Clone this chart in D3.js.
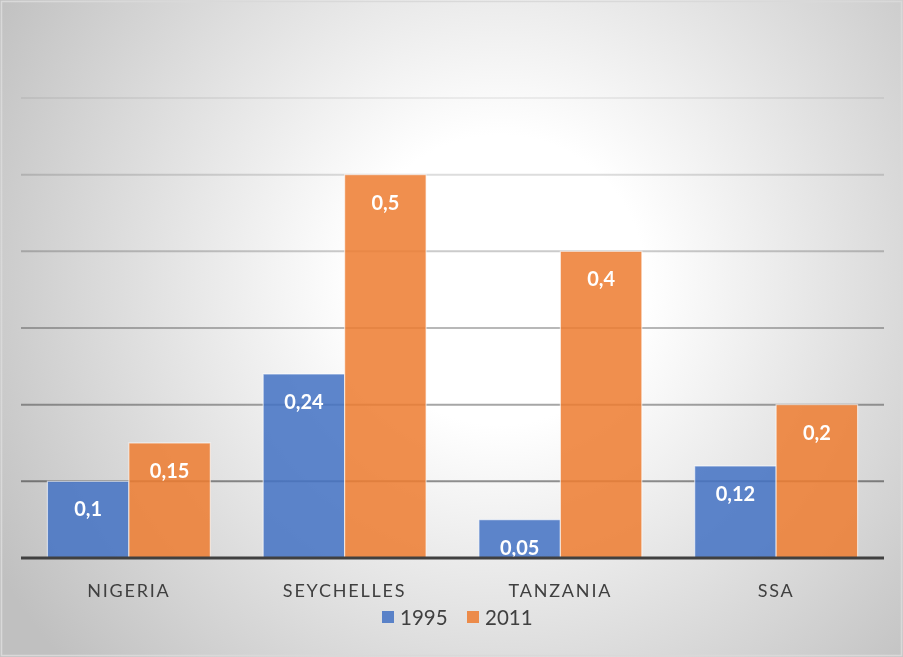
<!DOCTYPE html>
<html>
<head>
<meta charset="utf-8">
<script src="https://cdn.jsdelivr.net/npm/d3@7"></script>
<style>
  body { margin: 0; background: #fff; }
  svg { display: block; }
</style>
</head>
<body>
<div id="chart"></div>
<script>
// chart data
var categories = ["NIGERIA", "SEYCHELLES", "TANZANIA", "SSA"];
var seriesNames = ["1995", "2011"];
var values1995 = [0.1, 0.24, 0.05, 0.12];
var values2011 = [0.15, 0.5, 0.4, 0.2];
var gridTicks = [0.1, 0.2, 0.3, 0.4, 0.5, 0.6];
var seriesColors = ["#4472c4", "#ed7d31"];

var width = 903, height = 657;
var plot = {left: 21, right: 884, top: 98, bottom: 558};

var svg = d3.select("#chart").append("svg")
    .attr("width", width)
    .attr("height", height);

var defs = svg.append("defs");
var bg = defs.append("radialGradient")
    .attr("id", "bgGrad")
    .attr("gradientUnits", "userSpaceOnUse")
    .attr("cx", 500).attr("cy", 280).attr("r", 580);
bg.append("stop").attr("offset", "0").attr("stop-color", "#ffffff");
bg.append("stop").attr("offset", "0.25").attr("stop-color", "#ffffff");
bg.append("stop").attr("offset", "1").attr("stop-color", "#c0c0c0");

svg.append("rect")
    .attr("x", 0).attr("y", 0)
    .attr("width", width).attr("height", height)
    .attr("fill", "url(#bgGrad)");

// outer border
svg.append("rect")
    .attr("x", 1.5).attr("y", 1.5)
    .attr("width", width - 3).attr("height", height - 3)
    .attr("fill", "none")
    .attr("stroke", "#d9d9d9")
    .attr("stroke-width", 1.5);

var x0 = d3.scaleBand()
    .domain(categories)
    .range([plot.left, plot.right])
    .paddingInner(0.245)
    .paddingOuter(0.1225);

var x1 = d3.scaleBand()
    .domain(seriesNames)
    .range([0, x0.bandwidth()]);

var y = d3.scaleLinear()
    .domain([0, 0.6])
    .range([plot.bottom, plot.top]);

// gridlines get darker towards the bottom, multiplied onto the background
var gridShade = d3.scaleLinear()
    .domain([0.6, 0.1])
    .range(["#f0f0f0", "#939393"]);

svg.append("g").selectAll("line")
    .data(gridTicks)
    .enter()
    .append("line")
    .attr("x1", plot.left).attr("x2", plot.right)
    .attr("y1", function(d) { return y(d); })
    .attr("y2", function(d) { return y(d); })
    .attr("stroke", function(d) { return gridShade(d); })
    .attr("stroke-width", 2)
    .style("mix-blend-mode", "multiply");

var rows = categories.map(function(c, i) {
    return {cat: c, vals: [values1995[i], values2011[i]]};
});

var groups = svg.append("g").selectAll("g")
    .data(rows)
    .enter()
    .append("g")
    .attr("transform", function(d) { return "translate(" + x0(d.cat) + ",0)"; });

groups.selectAll("rect")
    .data(function(d) { return d.vals.map(function(v, k) { return {s: seriesNames[k], k: k, v: v}; }); })
    .enter()
    .append("rect")
    .attr("x", function(d) { return x1(d.s); })
    .attr("y", function(d) { return y(d.v); })
    .attr("width", x1.bandwidth())
    .attr("height", function(d) { return y(0) - y(d.v); })
    .attr("fill", function(d) { return seriesColors[d.k]; })
    .attr("fill-opacity", 0.86)
    .attr("stroke", "#ffffff")
    .attr("stroke-opacity", 0.6)
    .attr("stroke-width", 1.2);

groups.selectAll("text")
    .data(function(d) { return d.vals.map(function(v, k) { return {s: seriesNames[k], k: k, v: v}; }); })
    .enter()
    .append("text")
    .attr("x", function(d) { return x1(d.s) + x1.bandwidth() / 2; })
    .attr("y", function(d) { return y(d.v) + 35; })
    .attr("text-anchor", "middle")
    .style("font-family", "Lato, 'Open Sans', sans-serif")
    .style("font-weight", "bold")
    .style("font-size", "20px")
    .style("fill", "#ffffff")
    .text(function(d) { return String(d.v).replace(".", ","); });

// x axis line
svg.append("line")
    .attr("x1", plot.left).attr("x2", plot.right)
    .attr("y1", y(0)).attr("y2", y(0))
    .attr("stroke", "#404040")
    .attr("stroke-width", 3);

// category labels
svg.append("g").selectAll("text")
    .data(categories)
    .enter()
    .append("text")
    .attr("x", function(d) { return x0(d) + x0.bandwidth() / 2; })
    .attr("y", 597)
    .attr("text-anchor", "middle")
    .style("font-family", "Lato, 'Open Sans', sans-serif")
    .style("font-size", "18px")
    .style("letter-spacing", "1.8px")
    .style("fill", "#404040")
    .text(function(d) { return d; });

// legend
var legendX = [382, 467];
var legend = svg.append("g").selectAll("g")
    .data(seriesNames)
    .enter()
    .append("g")
    .attr("transform", function(d, i) { return "translate(" + legendX[i] + ",611)"; });

legend.append("rect")
    .attr("width", 12).attr("height", 12)
    .attr("fill", function(d, i) { return seriesColors[i]; })
    .attr("fill-opacity", 0.86);

legend.append("text")
    .attr("x", 18)
    .attr("y", 13.5)
    .style("font-family", "Lato, 'Open Sans', sans-serif")
    .style("font-size", "20.5px")
    .style("fill", "#404040")
    .text(function(d) { return d; });
</script>
</body>
</html>
